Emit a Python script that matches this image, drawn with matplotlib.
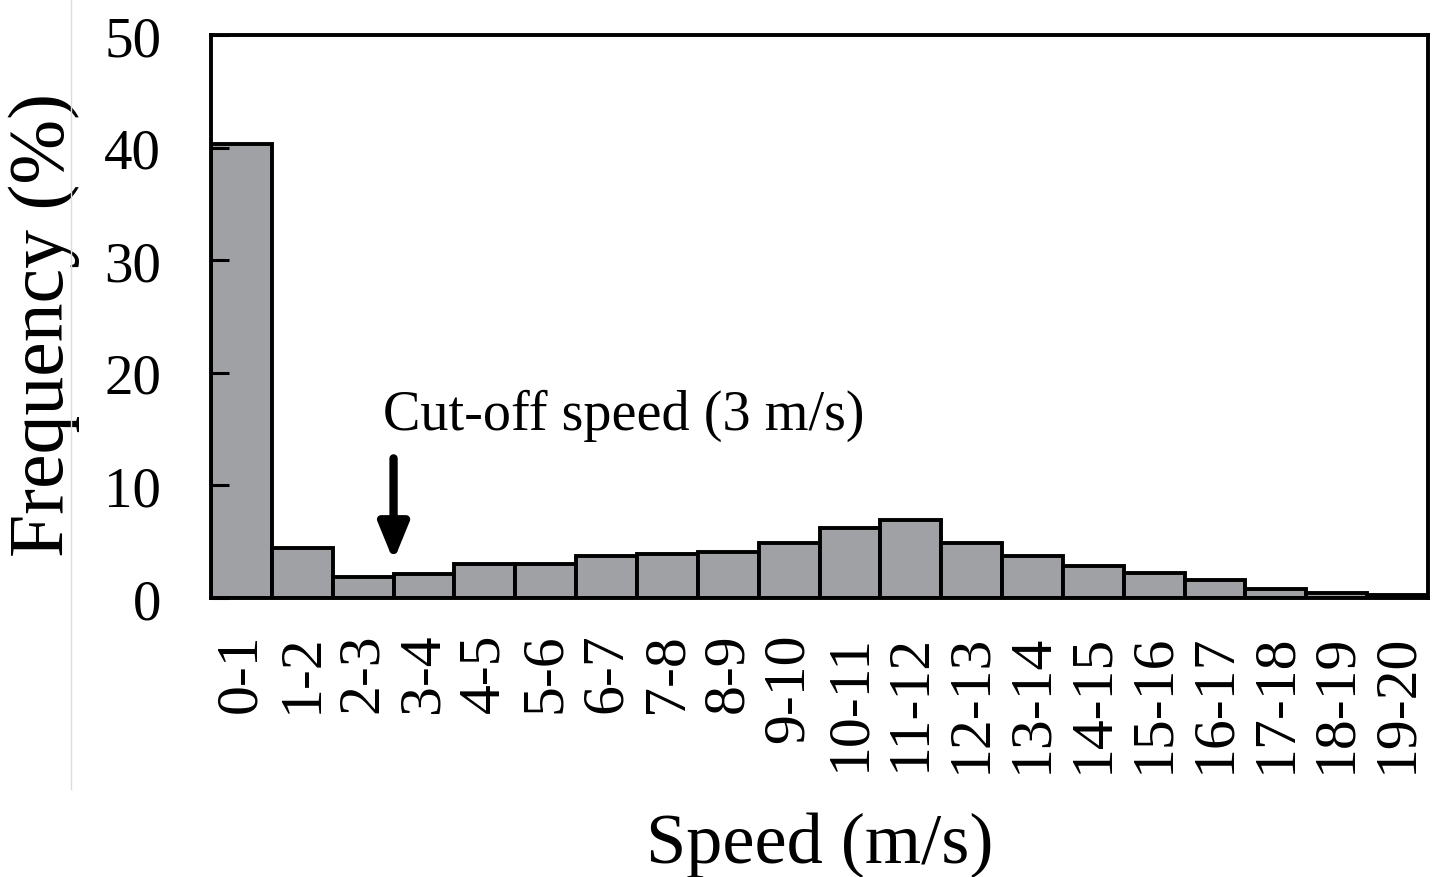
import matplotlib
matplotlib.use("Agg")
import matplotlib.pyplot as plt
from matplotlib.lines import Line2D

categories = ["0-1", "1-2", "2-3", "3-4", "4-5", "5-6", "6-7", "7-8", "8-9", "9-10",
              "10-11", "11-12", "12-13", "13-14", "14-15", "15-16", "16-17", "17-18",
              "18-19", "19-20"]
frequency = [40.3, 4.4, 1.9, 2.1, 3.0, 3.0, 3.7, 3.9, 4.1, 4.9,
             6.2, 6.9, 4.9, 3.7, 2.8, 2.2, 1.6, 0.8, 0.4, 0.25]
yticks = [0, 10, 20, 30, 40, 50]

plt.rcParams['font.family'] = ['Liberation Serif', 'DejaVu Serif']

fig = plt.figure(figsize=(14.42, 8.78), dpi=100)
ax = fig.add_axes([211/1442, 1-599/878, (1428-211)/1442, (599-36)/878])

x = [i + 0.5 for i in range(len(categories))]
ax.bar(x, frequency, width=1.0, color='#a0a1a5', edgecolor='black', linewidth=2.8)

ax.set_xlim(0, len(categories))
ax.set_ylim(0, 50)
ax.set_yticks(yticks)
ax.set_xticks(x)
ax.set_xticklabels(categories, rotation=90)
ax.tick_params(axis='x', length=0, pad=25, labelsize=43)
ax.tick_params(axis='y', direction='in', length=13, width=2.2, pad=36, labelsize=41)
for s in ax.spines.values():
    s.set_linewidth(2.8)

ax.set_ylabel("Frequency (%)", fontsize=56)
ax.yaxis.set_label_coords(-0.1076, 0.487)
ax.set_xlabel("Speed (m/s)", fontsize=52, labelpad=28)

ax.annotate("", xy=(3.0, 3.3), xytext=(3.0, 12.4),
            arrowprops=dict(arrowstyle='-|>,head_length=2.2,head_width=0.9',
                            color='black', lw=6, shrinkA=0, shrinkB=0))
ax.text(2.82, 15.0, "Cut-off speed (3 m/s)", fontsize=40.5, ha='left', va='baseline')

fig.add_artist(Line2D([71/1442, 71/1442], [1.0, 1-790/878], transform=fig.transFigure,
                      color='#dddddd', lw=1))

fig.savefig("out.png", dpi=100)
